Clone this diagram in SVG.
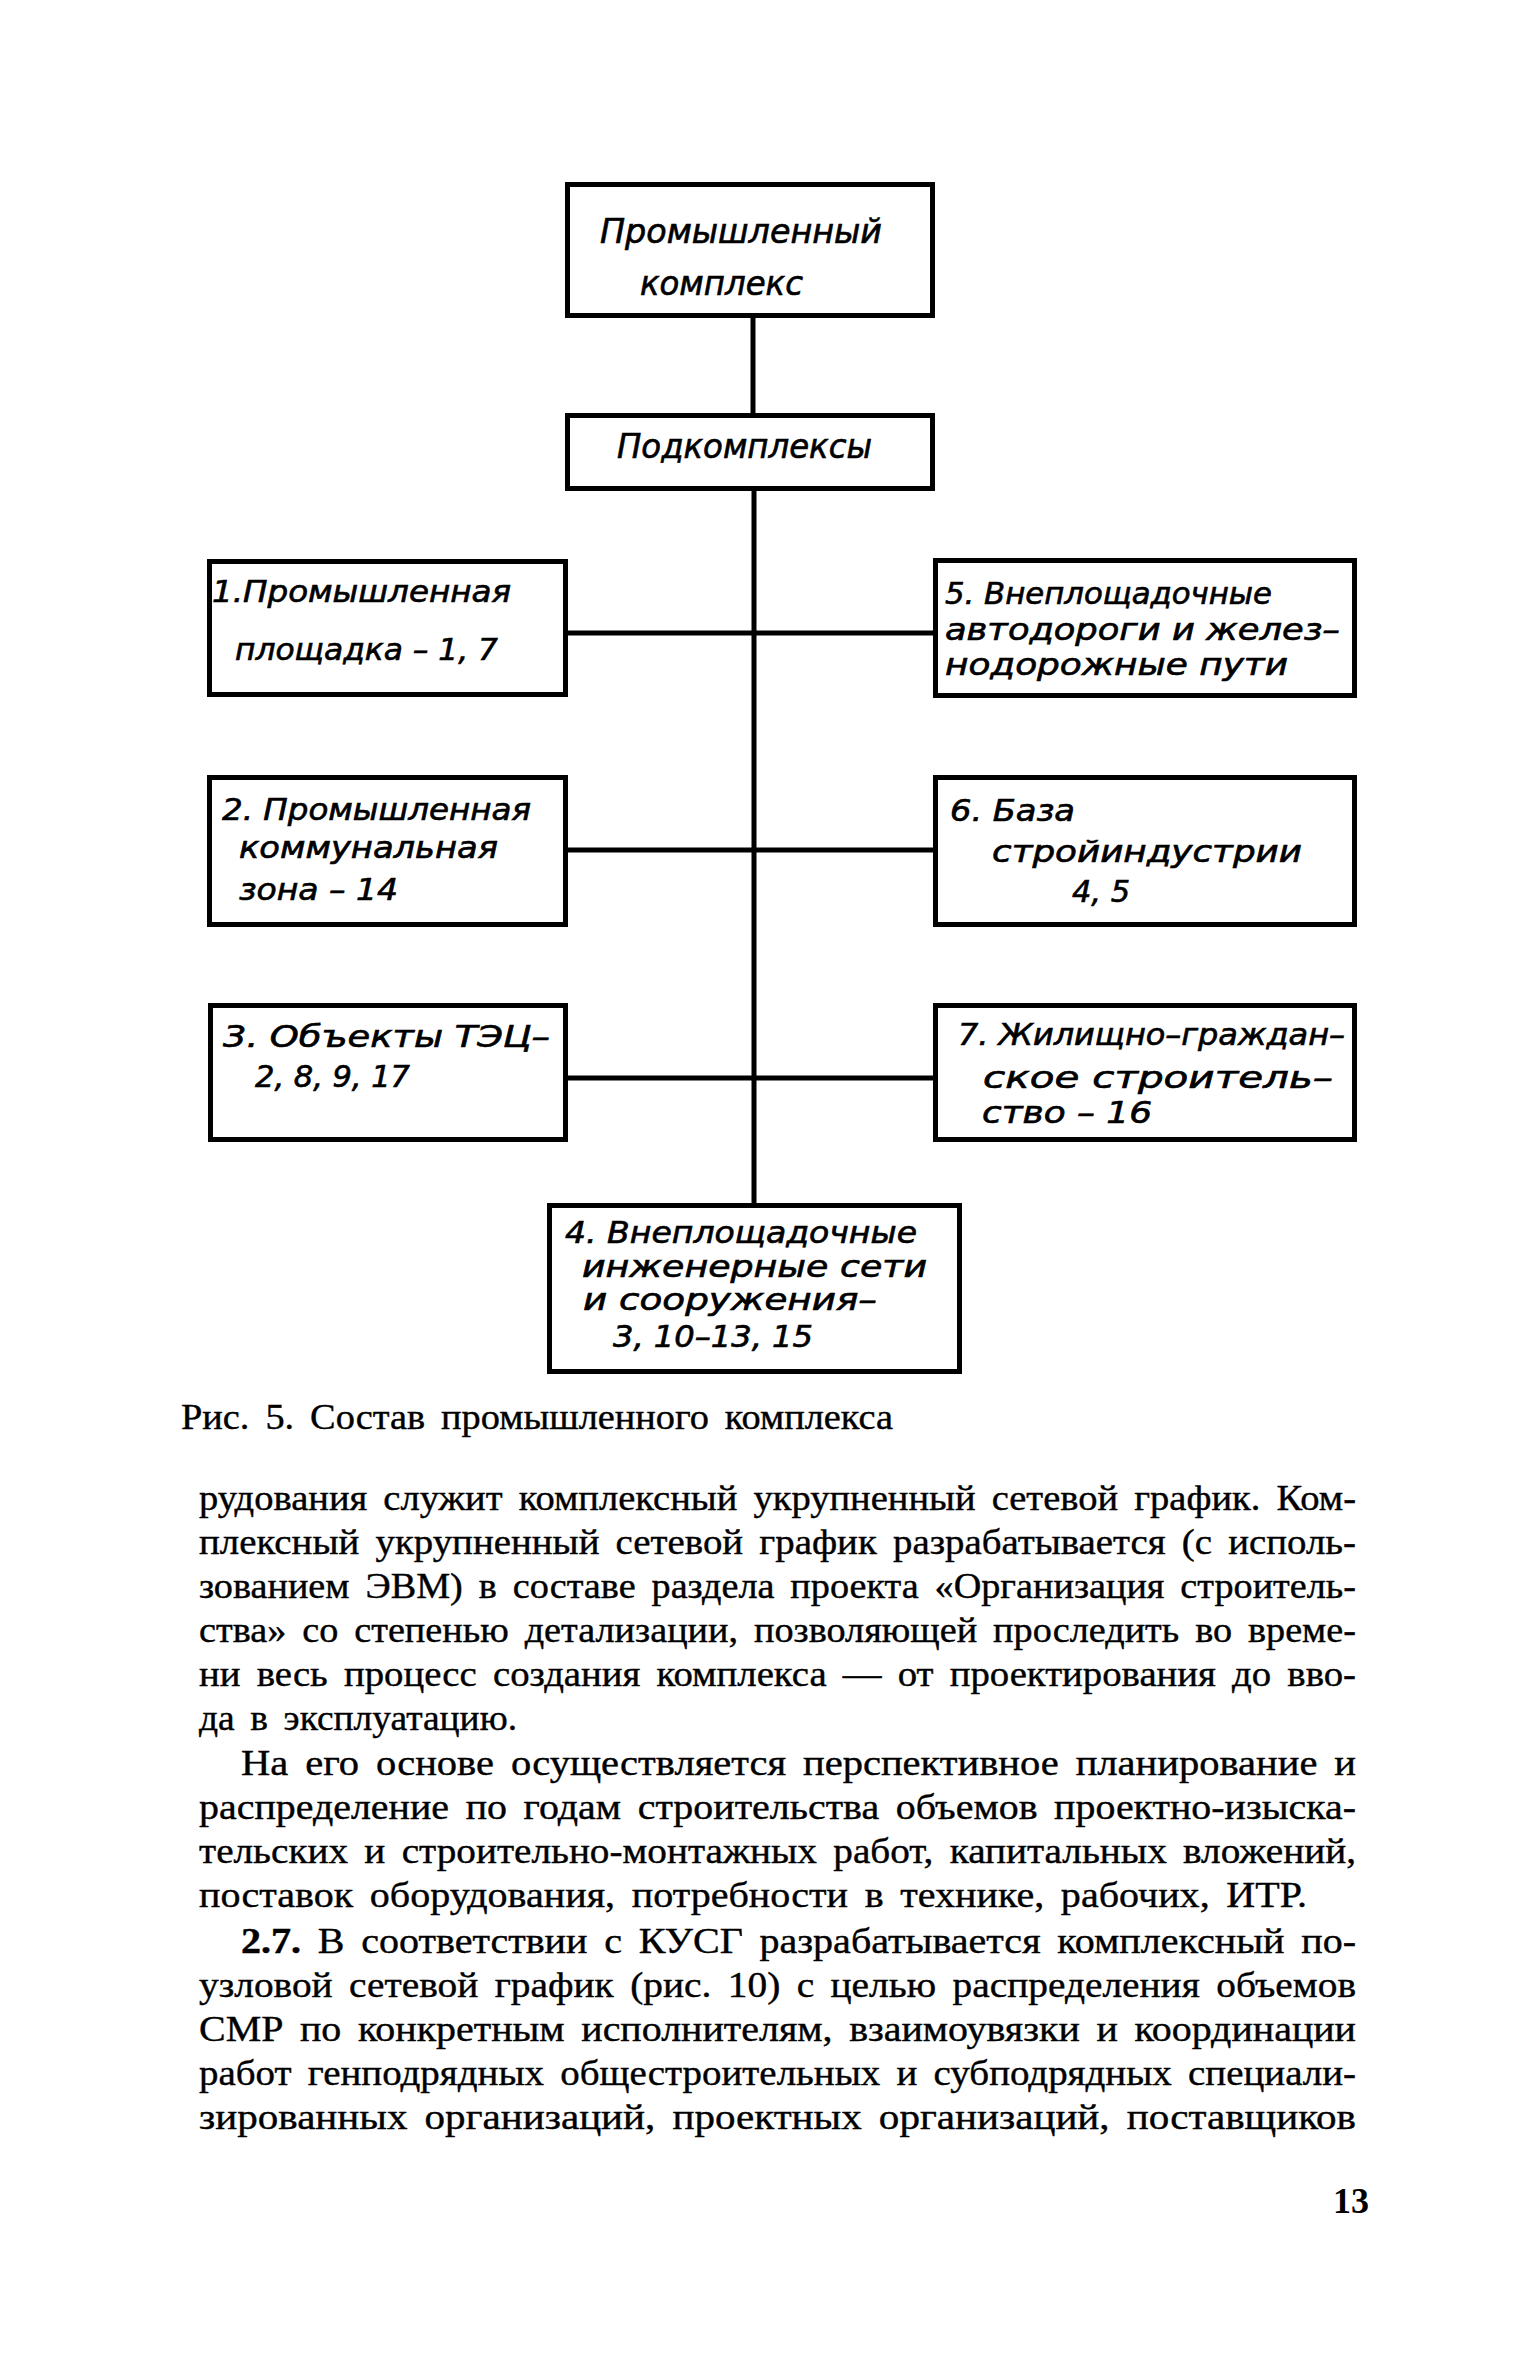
<svg xmlns="http://www.w3.org/2000/svg" width="1535" height="2362" viewBox="0 0 1535 2362">
<style>
  .bg { fill: #ffffff; }
  .box { fill: none; stroke: #000; stroke-width: 5; }
  .conn { stroke: #000; stroke-width: 5; fill: none; }
  .lbl { font-family: "DejaVu Sans Condensed", "DejaVu Sans", sans-serif; font-style: italic; font-size: 30px; fill: #000; stroke: #000; stroke-width: 0.6; }
  .lbl-big { font-family: "DejaVu Sans Condensed", "DejaVu Sans", sans-serif; font-style: italic; font-size: 34px; fill: #000; stroke: #000; stroke-width: 0.6; }
  .body { font-family: "Liberation Serif", serif; font-size: 36px; word-spacing: 6px; fill: #000; stroke: #000; stroke-width: 0.4; }
  .pgn { font-family: "Liberation Serif", serif; font-size: 36px; font-weight: bold; fill: #000; }
</style>
<rect class="bg" x="0" y="0" width="1535" height="2362"/>

<g id="connectors">
  <line class="conn" x1="753" y1="316" x2="753" y2="416"/>
  <line class="conn" x1="754" y1="489" x2="754" y2="1205"/>
  <line class="conn" x1="566" y1="633" x2="936" y2="633"/>
  <line class="conn" x1="566" y1="850" x2="936" y2="850"/>
  <line class="conn" x1="566" y1="1078" x2="936" y2="1078"/>
</g>

<g id="node-complex">
  <rect class="box" x="567.5" y="184.5" width="365" height="131"/>
  <text class="lbl-big" x="600" y="243" textLength="282" lengthAdjust="spacingAndGlyphs">Промышленный</text>
  <text class="lbl-big" x="640" y="295" textLength="163" lengthAdjust="spacingAndGlyphs">комплекс</text>
</g>

<g id="node-subcomplexes">
  <rect class="box" x="567.5" y="415.5" width="365" height="73"/>
  <text class="lbl-big" x="617" y="458" textLength="255" lengthAdjust="spacingAndGlyphs">Подкомплексы</text>
</g>

<g id="node-1">
  <rect class="box" x="209.5" y="561.5" width="356" height="133"/>
  <text class="lbl" x="212" y="602" textLength="299" lengthAdjust="spacingAndGlyphs">1.Промышленная</text>
  <text class="lbl" x="235" y="660" textLength="263" lengthAdjust="spacingAndGlyphs">площадка – 1, 7</text>
</g>

<g id="node-2">
  <rect class="box" x="209.5" y="777.5" width="356" height="147"/>
  <text class="lbl" x="222" y="820" textLength="309" lengthAdjust="spacingAndGlyphs">2. Промышленная</text>
  <text class="lbl" x="239" y="858" textLength="259" lengthAdjust="spacingAndGlyphs">коммунальная</text>
  <text class="lbl" x="239" y="900" textLength="159" lengthAdjust="spacingAndGlyphs">зона – 14</text>
</g>

<g id="node-3">
  <rect class="box" x="210.5" y="1005.5" width="355" height="134"/>
  <text class="lbl" x="223" y="1047" textLength="327" lengthAdjust="spacingAndGlyphs">3. Объекты ТЭЦ–</text>
  <text class="lbl" x="255" y="1087" textLength="155" lengthAdjust="spacingAndGlyphs">2, 8, 9, 17</text>
</g>

<g id="node-5">
  <rect class="box" x="935.5" y="560.5" width="419" height="135"/>
  <text class="lbl" x="945" y="604" textLength="327" lengthAdjust="spacingAndGlyphs">5. Внеплощадочные</text>
  <text class="lbl" x="945" y="640" textLength="395" lengthAdjust="spacingAndGlyphs">автодороги  и желез–</text>
  <text class="lbl" x="945" y="675" textLength="343" lengthAdjust="spacingAndGlyphs">нодорожные   пути</text>
</g>

<g id="node-6">
  <rect class="box" x="935.5" y="777.5" width="419" height="147"/>
  <text class="lbl" x="950" y="821" textLength="125" lengthAdjust="spacingAndGlyphs">6. База</text>
  <text class="lbl" x="992" y="862" textLength="310" lengthAdjust="spacingAndGlyphs">стройиндустрии</text>
  <text class="lbl" x="1072" y="902" textLength="58" lengthAdjust="spacingAndGlyphs">4, 5</text>
</g>

<g id="node-7">
  <rect class="box" x="935.5" y="1005.5" width="419" height="134"/>
  <text class="lbl" x="958" y="1045" textLength="387" lengthAdjust="spacingAndGlyphs">7. Жилищно–граждан–</text>
  <text class="lbl" x="983" y="1088" textLength="350" lengthAdjust="spacingAndGlyphs">ское   строитель–</text>
  <text class="lbl" x="982" y="1123" textLength="170" lengthAdjust="spacingAndGlyphs">ство – 16</text>
</g>

<g id="node-4">
  <rect class="box" x="549.5" y="1205.5" width="410" height="166"/>
  <text class="lbl" x="565" y="1243" textLength="352" lengthAdjust="spacingAndGlyphs">4. Внеплощадочные</text>
  <text class="lbl" x="582" y="1277" textLength="345" lengthAdjust="spacingAndGlyphs">инженерные  сети</text>
  <text class="lbl" x="583" y="1310" textLength="294" lengthAdjust="spacingAndGlyphs">и  сооружения–</text>
  <text class="lbl" x="613" y="1347" textLength="200" lengthAdjust="spacingAndGlyphs">3, 10–13, 15</text>
</g>

<g id="caption">
  <text class="body" x="181" y="1429" textLength="712" lengthAdjust="spacingAndGlyphs">Рис. 5. Состав промышленного комплекса</text>
</g>

<g id="body-text">
  <text class="body" x="199" y="1510" textLength="1157" lengthAdjust="spacingAndGlyphs">рудования служит комплексный укрупненный сетевой график. Ком-</text>
  <text class="body" x="199" y="1554" textLength="1157" lengthAdjust="spacingAndGlyphs">плексный укрупненный сетевой график разрабатывается (с исполь-</text>
  <text class="body" x="199" y="1598" textLength="1157" lengthAdjust="spacingAndGlyphs">зованием ЭВМ) в составе раздела проекта «Организация строитель-</text>
  <text class="body" x="199" y="1642" textLength="1157" lengthAdjust="spacingAndGlyphs">ства» со степенью детализации, позволяющей проследить во време-</text>
  <text class="body" x="199" y="1686" textLength="1157" lengthAdjust="spacingAndGlyphs">ни весь процесс создания комплекса — от проектирования до вво-</text>
  <text class="body" x="199" y="1730" textLength="318" lengthAdjust="spacingAndGlyphs">да в эксплуатацию.</text>
  <text class="body" x="241" y="1775" textLength="1115" lengthAdjust="spacingAndGlyphs">На его основе осуществляется перспективное планирование и</text>
  <text class="body" x="199" y="1819" textLength="1157" lengthAdjust="spacingAndGlyphs">распределение по годам строительства объемов проектно-изыска-</text>
  <text class="body" x="199" y="1863" textLength="1157" lengthAdjust="spacingAndGlyphs">тельских и строительно-монтажных работ, капитальных вложений,</text>
  <text class="body" x="199" y="1907" textLength="1108" lengthAdjust="spacingAndGlyphs">поставок оборудования, потребности в технике, рабочих, ИТР.</text>
  <text class="body" x="241" y="1953" textLength="1115" lengthAdjust="spacingAndGlyphs"><tspan font-weight="bold">2.7.</tspan> В соответствии с КУСГ разрабатывается комплексный по-</text>
  <text class="body" x="199" y="1997" textLength="1157" lengthAdjust="spacingAndGlyphs">узловой сетевой график (рис. 10) с целью распределения объемов</text>
  <text class="body" x="199" y="2041" textLength="1157" lengthAdjust="spacingAndGlyphs">СМР по конкретным исполнителям, взаимоувязки и координации</text>
  <text class="body" x="199" y="2085" textLength="1157" lengthAdjust="spacingAndGlyphs">работ генподрядных общестроительных и субподрядных специали-</text>
  <text class="body" x="199" y="2129" textLength="1157" lengthAdjust="spacingAndGlyphs">зированных организаций, проектных организаций, поставщиков</text>
</g>

<g id="page-number">
  <text class="pgn" x="1333" y="2213">13</text>
</g>
</svg>
